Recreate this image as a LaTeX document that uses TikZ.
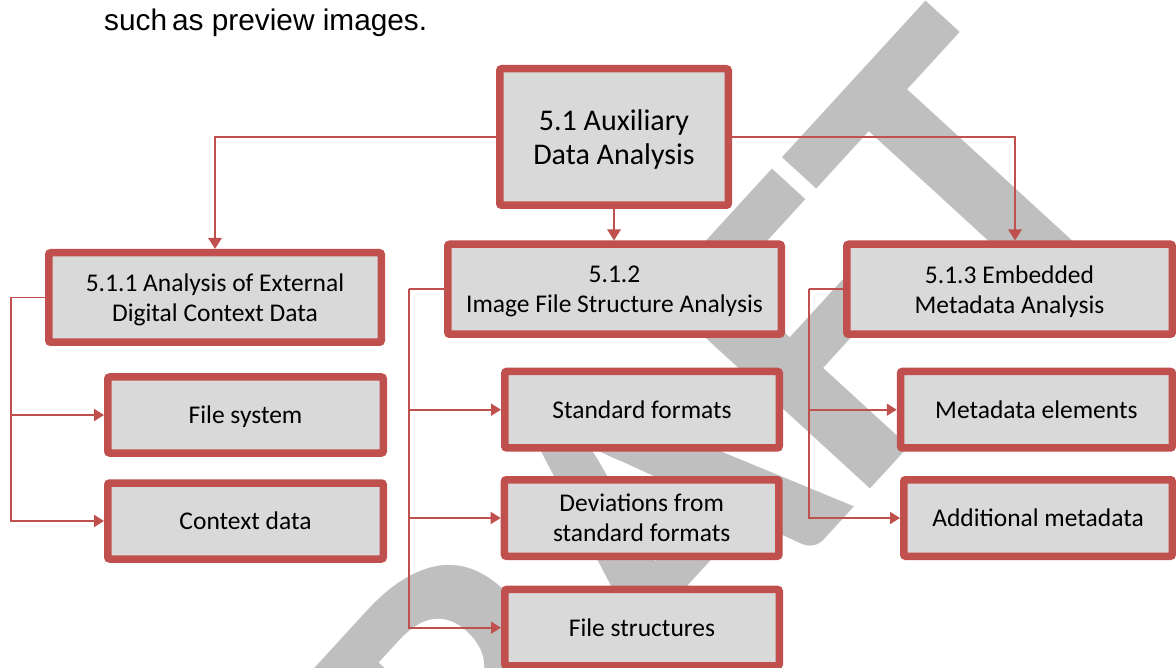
\documentclass[tikz,border=0pt]{standalone}
\usepackage{fontspec}
\setmainfont{Carlito}
\newfontfamily\arialfont{Liberation Sans}
\newfontfamily\wmfont{Carlito}
\usetikzlibrary{arrows.meta}
\definecolor{boxred}{RGB}{192,80,77}
\definecolor{boxfill}{RGB}{217,217,217}
\definecolor{wmgray}{RGB}{191,191,191}
\tikzset{
  box/.style={draw=boxred, fill=boxfill, line width=7.5pt, rounded corners=2pt, inner sep=0pt, align=center, text=black, text depth=0pt},
  mainfont/.style={font=\fontsize{30}{34}\selectfont},
  subfont/.style={font=\fontsize{25.5}{30}\selectfont},
  mainlink/.style={draw=boxred, line width=2.75pt, -{Triangle[length=11pt,width=13pt]}},
  leaflink/.style={draw=boxred, line width=1.75pt, -{Triangle[length=10pt,width=12pt]}},
  bracket/.style={draw=boxred, line width=1.75pt},
  wm/.style={font={\wmfont\bfseries\fontsize{445}{445}\selectfont}, text=wmgray, inner sep=0pt},
}
\begin{document}
\begin{tikzpicture}[x=1pt,y=-1pt]
\useasboundingbox (0,0) rectangle (1176,668);
\fill[white] (0,0) rectangle (1176,668);
\begin{scope}
\clip (0,0) rectangle (1176,668);
\node[wm, anchor=base east, rotate=47.5] (wm) at (1142,193) {DRAFT};
\end{scope}
\node[anchor=base west, font={\arialfont\fontsize{29.8}{34}\selectfont}, inner sep=0pt] (intro) at (104,31) {such\hspace{5pt}as preview images.};
% boxes
\node[box, mainfont, minimum width=228.5pt, minimum height=136.5pt] (top) at (614,137) {5.1 Auxiliary\\Data Analysis};
\node[box, subfont, minimum width=332.5pt, minimum height=89.5pt] (b511) at (215,297.5) {5.1.1 Analysis of External\\Digital Context Data};
\node[box, subfont, minimum width=333.5pt, minimum height=90pt] (b512) at (614.5,289.25) {5.1.2\\Image File Structure Analysis};
\node[box, subfont, minimum width=325.5pt, minimum height=90pt] (b513) at (1009.5,289.25) {5.1.3 Embedded\\Metadata Analysis};
\node[box, subfont, minimum width=275.5pt, minimum height=76pt] (fs) at (245.5,415) {File system};
\node[box, subfont, minimum width=275.5pt, minimum height=76pt] (cd) at (245.5,521) {Context data};
\node[box, subfont, minimum width=274.5pt, minimum height=76.5pt] (sf) at (642,409.7) {Standard formats};
\node[box, subfont, minimum width=274.5pt, minimum height=76.5pt] (dv) at (641.7,518) {Deviations from\\standard formats};
\node[box, subfont, minimum width=274.5pt, minimum height=76.5pt] (fst) at (642,627.7) {File structures};
\node[box, subfont, minimum width=271.8pt, minimum height=76.5pt] (me) at (1036.4,409.7) {Metadata elements};
\node[box, subfont, minimum width=268.5pt, minimum height=76.5pt] (am) at (1038,518) {Additional metadata};
% main connectors
\draw[mainlink] (top.west) -| (b511.north);
\draw[mainlink] (top.east) -| ([xshift=5.5pt]b513.north);
\draw[mainlink] (top.south) -- (top.south |- b512.north);
% brackets
\coordinate (j1) at ([xshift=-34pt]b511.west);
\coordinate (j2) at ([xshift=-34.7pt]b512.west);
\coordinate (j3) at ([xshift=-33.7pt]b513.west);
\draw[bracket] (b511.west) -- (j1);
\draw[leaflink] (j1) |- (fs.west);
\draw[leaflink] (j1) |- (cd.west);
\draw[bracket] (b512.west) -- (j2);
\draw[leaflink] (j2) |- (sf.west);
\draw[leaflink] (j2) |- (dv.west);
\draw[leaflink] (j2) |- (fst.west);
\draw[bracket] (b513.west) -- (j3);
\draw[leaflink] (j3) |- (me.west);
\draw[leaflink] (j3) |- (am.west);
\end{tikzpicture}
\end{document}
